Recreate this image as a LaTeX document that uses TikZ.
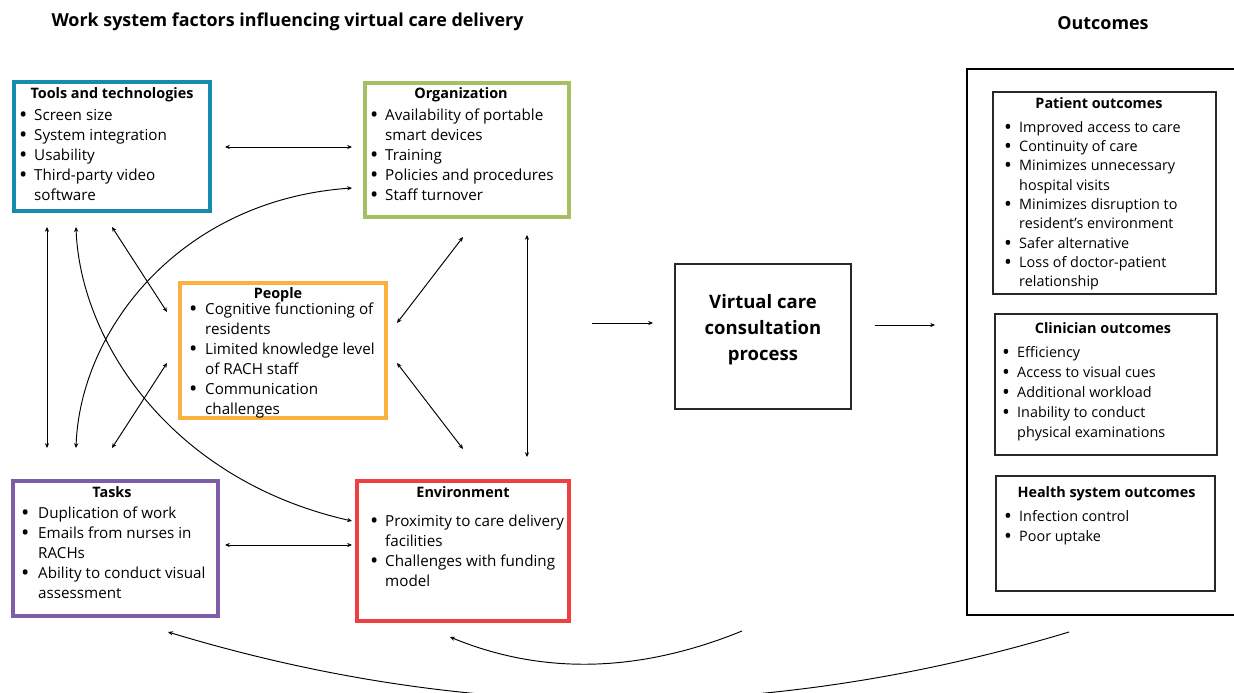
\documentclass[tikz,border=0pt]{standalone}
\usepackage{fontspec}
\setmainfont{Open Sans}
\usetikzlibrary{arrows.meta}
\definecolor{cblue}{RGB}{25,138,175}
\definecolor{cgreen}{RGB}{165,192,98}
\definecolor{corange}{RGB}{251,176,64}
\definecolor{cpurple}{RGB}{124,94,168}
\definecolor{cred}{RGB}{238,64,64}
\definecolor{cgray}{RGB}{40,40,40}
\newcommand{\bul}[1][14.5pt]{\makebox[#1][l]{\hspace{-0.6pt}\raisebox{-0.14em}{\scalebox{1.45}{\textbullet}}}}
\newcommand{\blist}[1]{\begin{tabular}{@{}l@{}l@{}}#1\end{tabular}}
\begin{document}
\begin{tikzpicture}[x=1pt,y=-1pt,
  >={Stealth[length=4.8pt,width=4.2pt]},
  wbox/.style={draw=#1, line width=4pt, inner sep=0pt},
  obox/.style={draw=cgray, line width=1.3pt, inner sep=0pt},
  head/.style={font=\bfseries\fontsize{14.4}{17}\selectfont, inner sep=0pt, anchor=base},
  big/.style={font=\bfseries\fontsize{17.9}{20}\selectfont, inner sep=0pt, anchor=base},
  body/.style={font=\fontsize{15.2}{20}\selectfont, inner sep=0pt, anchor=north west},
  obody/.style={font=\fontsize{14.4}{#1}\selectfont, inner sep=0pt, anchor=north west},
  obody/.default=20pt,
  link/.style={line width=0.95pt, <->},
  flow/.style={line width=0.95pt, ->},
]
\useasboundingbox (0,0) rectangle (1234,693);
\clip (0,0) rectangle (1234,693);

% titles
\node[big] (title) at (287.5,27) {Work system factors influencing virtual care delivery};
\node[big] (outT) at (1103,30) {Outcomes};

% work system boxes
\node[wbox=cblue, minimum width=196pt, minimum height=129pt] (tools) at (112,146.5) {};
\node[wbox=cgreen, minimum width=204pt, minimum height=134pt] (org) at (467,150) {};
\node[wbox=corange, minimum width=206pt, minimum height=135pt] (people) at (283,350.5) {};
\node[wbox=cpurple, minimum width=205pt, minimum height=135pt] (tasks) at (115.5,548.5) {};
\node[wbox=cred, minimum width=212pt, minimum height=140pt] (env) at (463,551) {};

\node[head] (toolsT) at (112,99) {Tools and technologies};
\node[body] (toolsL) at (19.5,106) {\blist{\bul & Screen size\\ \bul & System integration\\ \bul & Usability\\ \bul & Third-party video\\ & software}};

\node[head] (orgT) at (461,99) {Organization};
\node[body] (orgL) at (370.5,106) {\blist{\bul & Availability of portable\\ & smart devices\\ \bul & Training\\ \bul & Policies and procedures\\ \bul & Staff turnover}};

\node[head] (peoT) at (278,298) {People};
\node[body] (peoL) at (189.5,300) {\blist{\bul[15.5pt] & Cognitive functioning of\\ & residents\\ \bul[15.5pt] & Limited knowledge level\\ & of RACH staff\\ \bul[15.5pt] & Communication\\ & challenges}};

\node[head] (tasT) at (112,497) {Tasks};
\node[body] (tasL) at (21.5,504) {\blist{\bul[16.5pt] & Duplication of work\\ \bul[16.5pt] & Emails from nurses in\\ & RACHs\\ \bul[16.5pt] & Ability to conduct visual\\ & assessment}};

\node[head] (envT) at (463,497) {Environment};
\node[body] (envL) at (370.5,512) {\blist{\bul & Proximity to care delivery\\ & facilities\\ \bul & Challenges with funding\\ & model}};

% process box
\node[draw=cgray, line width=1.5pt, minimum width=176pt, minimum height=145pt, inner sep=0pt] (vc) at (763,336.5) {};
\node[font=\bfseries\fontsize{18.5}{26}\selectfont, align=center, inner sep=0pt] (vcT) at (763,330) {Virtual care\\consultation\\process};

% outcomes
\node[draw=black, line width=1.3pt, minimum width=273pt, minimum height=546pt, inner sep=0pt] (outbox) at (1103.5,342) {};
\node[obox, minimum width=223pt, minimum height=202pt] (pat) at (1104.5,193) {};
\node[obox, minimum width=222pt, minimum height=141pt] (cli) at (1106,384.5) {};
\node[obox, minimum width=219pt, minimum height=115pt] (hea) at (1105.5,533.5) {};

\node[head] (patT) at (1099,108) {Patient outcomes};
\node[obody=19.3pt] (patL) at (1004.5,118.5) {\blist{\bul & Improved access to care\\ \bul & Continuity of care\\ \bul & Minimizes unnecessary\\ & hospital visits\\ \bul & Minimizes disruption to\\ & resident’s environment\\ \bul & Safer alternative\\ \bul & Loss of doctor-patient\\ & relationship}};

\node[head] (cliT) at (1103,333) {Clinician outcomes};
\node[obody] (cliL) at (1002.5,343) {\blist{\bul & Efficiency\\ \bul & Access to visual cues\\ \bul & Additional workload\\ \bul & Inability to conduct\\ & physical examinations}};

\node[head] (heaT) at (1106.5,497) {Health system outcomes};
\node[obody] (heaL) at (1004.5,507) {\blist{\bul & Infection control\\ \bul & Poor uptake}};

% connector end points
\coordinate (a1s) at (225,147);  \coordinate (a1e) at (352,147);
\coordinate (a2s) at (225,545);  \coordinate (a2e) at (352,545);
\coordinate (a3s) at (47,227);   \coordinate (a3e) at (47,448);
\coordinate (a4s) at (76,227);   \coordinate (a4e) at (352,521);
\coordinate (a5s) at (76,448);   \coordinate (a5e) at (352,188);
\coordinate (a6s) at (112,227);  \coordinate (a6e) at (167,312);
\coordinate (a7s) at (112,448);  \coordinate (a7e) at (167,363);
\coordinate (a8s) at (463,237);  \coordinate (a8e) at (397,323);
\coordinate (a9s) at (397,363);  \coordinate (a9e) at (463,449);
\coordinate (a10s) at (527,235); \coordinate (a10e) at (527,457);
\coordinate (f1s) at (592,323);  \coordinate (f1e) at (653,323);
\coordinate (f2s) at (875,325);  \coordinate (f2e) at (935,325);
\coordinate (b1s) at (742,631);  \coordinate (b1e) at (450,637);
\coordinate (b2s) at (1069,632); \coordinate (b2e) at (168,632);

\draw[link] (a1s) -- (a1e);
\draw[link] (a2s) -- (a2e);
\draw[link] (a3s) -- (a3e);
\draw[link] (a4s) .. controls (80,340) and (170,480) .. (a4e);
\draw[link] (a5s) .. controls (80,330) and (180,200) .. (a5e);
\draw[link] (a6s) -- (a6e);
\draw[link] (a7s) -- (a7e);
\draw[link] (a8s) -- (a8e);
\draw[link] (a9s) -- (a9e);
\draw[link] (a10s) -- (a10e);
\draw[flow] (f1s) -- (f1e);
\draw[flow] (f2s) -- (f2e);
\draw[flow] (b1s) .. controls (639,673) and (542,675) .. (b1e);
\draw[flow] (b2s) .. controls (768,723) and (468,723) .. (b2e);
\end{tikzpicture}
\end{document}
